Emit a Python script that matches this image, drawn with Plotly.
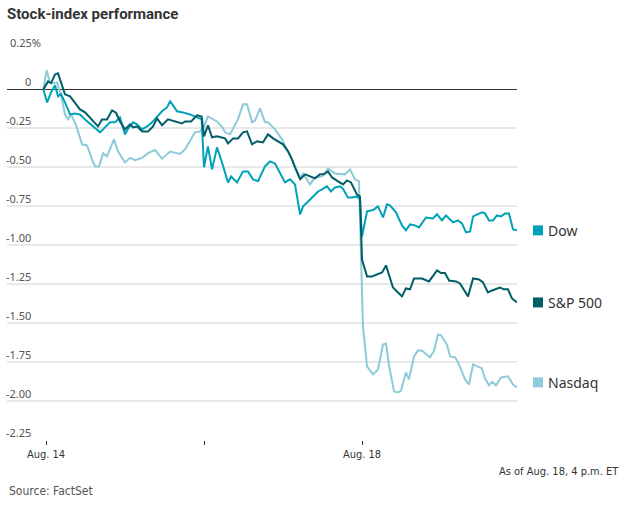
import plotly.graph_objects as go

# time in trading days from Aug. 14 open (1 = Aug. 15 open, 2 = Aug. 18 open)
nasdaq_t = [-0.017, 0.004, 0.025, 0.045, 0.070, 0.101, 0.120, 0.139, 0.158, 0.190,
            0.228, 0.260, 0.291, 0.310, 0.335, 0.361, 0.386, 0.430, 0.456, 0.500,
            0.532, 0.563, 0.608, 0.646, 0.690, 0.734, 0.785, 0.848, 0.880, 0.911,
            0.943, 0.975, 1.000, 1.025, 1.051, 1.082, 1.114, 1.133, 1.165, 1.215,
            1.247, 1.272, 1.304, 1.323, 1.354, 1.386, 1.405, 1.449, 1.494, 1.532,
            1.576, 1.608, 1.627, 1.671, 1.703, 1.747, 1.785, 1.829, 1.892, 1.924,
            1.956, 1.981, 2.006, 2.032, 2.070, 2.101, 2.133, 2.152, 2.172, 2.203,
            2.228, 2.247, 2.278, 2.297, 2.329, 2.354, 2.380, 2.430, 2.456, 2.481,
            2.500, 2.538, 2.557, 2.590, 2.614, 2.652, 2.677, 2.703, 2.759, 2.778,
            2.804, 2.823, 2.848, 2.880, 2.924, 2.956, 2.981]
nasdaq = [0.000, 0.122, 0.045, 0.040, 0.045, -0.064, -0.161, -0.193, -0.160, -0.230,
          -0.353, -0.360, -0.450, -0.495, -0.495, -0.410, -0.430, -0.321, -0.400, -0.470,
          -0.440, -0.455, -0.440, -0.410, -0.390, -0.445, -0.400, -0.415, -0.385, -0.335,
          -0.276, -0.270, -0.240, -0.174, -0.190, -0.206, -0.240, -0.276, -0.289, -0.193,
          -0.096, -0.096, -0.212, -0.200, -0.122, -0.212, -0.212, -0.257, -0.321, -0.398,
          -0.495, -0.566, -0.540, -0.611, -0.566, -0.559, -0.508, -0.540, -0.546, -0.514,
          -0.578, -0.591, -1.523, -1.780, -1.832, -1.800, -1.639, -1.633, -1.780, -1.941,
          -1.947, -1.935, -1.819, -1.864, -1.716, -1.677, -1.680, -1.722, -1.680, -1.575,
          -1.580, -1.640, -1.716, -1.722, -1.767, -1.864, -1.896, -1.767, -1.793, -1.857,
          -1.902, -1.880, -1.902, -1.851, -1.844, -1.896, -1.915]

dow_t = [-0.017, 0.007, 0.032, 0.057, 0.076, 0.095, 0.120, 0.152, 0.184, 0.215,
         0.247, 0.278, 0.310, 0.342, 0.373, 0.405, 0.437, 0.468, 0.500, 0.525,
         0.551, 0.576, 0.608, 0.639, 0.671, 0.703, 0.734, 0.766, 0.785, 0.804,
         0.829, 0.867, 0.911, 0.956, 0.985, 1.000, 1.025, 1.051, 1.082, 1.114,
         1.152, 1.171, 1.209, 1.247, 1.278, 1.310, 1.342, 1.386, 1.418, 1.449,
         1.481, 1.513, 1.544, 1.576, 1.608, 1.627, 1.659, 1.690, 1.722, 1.747,
         1.778, 1.804, 1.829, 1.861, 1.880, 1.911, 1.937, 1.968, 1.987, 2.000,
         2.032, 2.070, 2.101, 2.133, 2.158, 2.177, 2.215, 2.253, 2.278, 2.304,
         2.335, 2.361, 2.405, 2.449, 2.475, 2.506, 2.532, 2.576, 2.608, 2.633,
         2.658, 2.684, 2.703, 2.759, 2.778, 2.804, 2.829, 2.854, 2.880, 2.905,
         2.930, 2.956, 2.981]
dow = [0.000, -0.084, -0.020, 0.026, -0.045, -0.030, -0.084, -0.161, -0.155, -0.161,
       -0.193, -0.219, -0.244, -0.276, -0.244, -0.212, -0.212, -0.180, -0.289, -0.244,
       -0.212, -0.225, -0.257, -0.238, -0.212, -0.174, -0.141, -0.116, -0.077, -0.103,
       -0.141, -0.148, -0.161, -0.180, -0.193, -0.501, -0.366, -0.514, -0.373, -0.470,
       -0.598, -0.560, -0.598, -0.527, -0.527, -0.578, -0.590, -0.495, -0.463, -0.476,
       -0.533, -0.598, -0.578, -0.611, -0.803, -0.752, -0.720, -0.688, -0.656, -0.643,
       -0.623, -0.656, -0.630, -0.623, -0.640, -0.694, -0.694, -0.688, -0.707, -0.945,
       -0.784, -0.775, -0.752, -0.823, -0.739, -0.745, -0.790, -0.874, -0.906, -0.868,
       -0.874, -0.887, -0.823, -0.829, -0.803, -0.842, -0.810, -0.855, -0.842, -0.861,
       -0.919, -0.913, -0.816, -0.790, -0.797, -0.842, -0.842, -0.810, -0.816, -0.797,
       -0.797, -0.900, -0.906]

sp_t = [-0.017, 0.013, 0.032, 0.057, 0.076, 0.101, 0.120, 0.152, 0.184, 0.215,
        0.247, 0.278, 0.304, 0.329, 0.354, 0.386, 0.418, 0.443, 0.468, 0.500,
        0.532, 0.551, 0.576, 0.608, 0.646, 0.677, 0.703, 0.734, 0.772, 0.816,
        0.861, 0.880, 0.918, 0.956, 0.985, 1.000, 1.025, 1.051, 1.082, 1.133,
        1.152, 1.184, 1.215, 1.247, 1.272, 1.304, 1.335, 1.373, 1.405, 1.437,
        1.468, 1.500, 1.532, 1.557, 1.576, 1.608, 1.640, 1.671, 1.703, 1.734,
        1.759, 1.785, 1.810, 1.848, 1.880, 1.905, 1.930, 1.968, 1.987, 2.000,
        2.032, 2.063, 2.095, 2.127, 2.152, 2.171, 2.196, 2.228, 2.253, 2.278,
        2.304, 2.329, 2.380, 2.424, 2.449, 2.475, 2.500, 2.525, 2.551, 2.595,
        2.620, 2.652, 2.671, 2.703, 2.741, 2.766, 2.797, 2.823, 2.873, 2.899,
        2.924, 2.949, 2.981]
sp500 = [0.000, 0.051, 0.040, 0.096, 0.103, 0.032, -0.032, -0.045, -0.084, -0.129,
         -0.148, -0.180, -0.206, -0.238, -0.193, -0.193, -0.135, -0.150, -0.206, -0.257,
         -0.225, -0.244, -0.238, -0.270, -0.270, -0.238, -0.186, -0.231, -0.193, -0.206,
         -0.219, -0.206, -0.206, -0.167, -0.174, -0.302, -0.231, -0.308, -0.302, -0.315,
         -0.347, -0.315, -0.315, -0.276, -0.270, -0.353, -0.334, -0.341, -0.289, -0.315,
         -0.334, -0.353, -0.398, -0.450, -0.501, -0.578, -0.546, -0.559, -0.572, -0.546,
         -0.546, -0.527, -0.566, -0.591, -0.611, -0.585, -0.598, -0.675, -0.688, -1.093,
         -1.202, -1.202, -1.189, -1.176, -1.131, -1.200, -1.273, -1.305, -1.330, -1.279,
         -1.285, -1.215, -1.215, -1.234, -1.200, -1.163, -1.180, -1.180, -1.228, -1.234,
         -1.247, -1.305, -1.330, -1.215, -1.221, -1.240, -1.305, -1.292, -1.273, -1.285,
         -1.285, -1.343, -1.369]

y_ticks = [0.25, 0, -0.25, -0.50, -0.75, -1.00, -1.25, -1.50, -1.75, -2.00, -2.25]
y_labels = ["0.25%", "0", "-0.25", "-0.50", "-0.75", "-1.00", "-1.25", "-1.50", "-1.75", "-2.00", "-2.25"]
x_ticks = [0, 1, 2]
x_labels = ["Aug. 14", "", "Aug. 18"]

series = [
    ("Nasdaq", nasdaq_t, nasdaq, "#8ccbd7"),
    ("Dow", dow_t, dow, "#00a2b9"),
    ("S&P 500", sp_t, sp500, "#005e68"),
]
label_shift = {"Nasdaq": 5}

narrow = "DejaVu Sans Condensed, Roboto, sans-serif"
fig = go.Figure()

for name, t, v, color in series:
    fig.add_trace(go.Scatter(x=t, y=v, name=name, mode="lines",
                             line=dict(color=color, width=2), hoverinfo="skip"))
    # end-of-line legend: square swatch + name
    dy = label_shift.get(name, 0)
    fig.add_shape(type="rect", xref="paper", yref="y", xsizemode="pixel", ysizemode="pixel",
                  xanchor=1, yanchor=v[-1], x0=16, x1=26, y0=-5 + dy, y1=5 + dy,
                  fillcolor=color, line=dict(width=0))
    fig.add_annotation(x=1, y=v[-1], xref="paper", yref="y", text=name, showarrow=False,
                       xanchor="left", yanchor="middle", xshift=29, yshift=dy,
                       font=dict(family="Noto Sans", size=14, color="#333333"))

# y tick labels sit above their grid lines
for val, lab in zip(y_ticks, y_labels):
    if lab.endswith("%"):
        fig.add_annotation(x=1 / 510, y=val, xref="paper", yref="y", text=lab, showarrow=False,
                           xanchor="left", yanchor="bottom", yshift=-2,
                           font=dict(family="Noto Sans", size=11, color="#555555"))
    else:
        fig.add_annotation(x=26 / 510, y=val, xref="paper", yref="y", text=lab, showarrow=False,
                           xanchor="right", yanchor="bottom", yshift=-2,
                           font=dict(family="Noto Sans", size=11, color="#555555"))

fig.update_layout(
    width=628, height=505,
    margin=dict(l=7, r=111, t=50, b=65),
    paper_bgcolor="white", plot_bgcolor="white",
    showlegend=False,
    title=dict(text="<b>Stock-index performance</b>", x=7 / 628, xanchor="left",
               y=1 - 14 / 505, yanchor="middle",
               font=dict(family="Roboto", size=15, color="#333333")),
    xaxis=dict(range=[-0.247, 2.981], tickvals=x_ticks, ticktext=x_labels,
               showgrid=False, zeroline=False, showline=False,
               ticks="outside", ticklen=4, tickcolor="#333333", tickwidth=1,
               tickfont=dict(family=narrow, size=11, color="#333333")),
    yaxis=dict(range=[-2.253, 0.253], tickvals=y_ticks, showticklabels=False,
               showgrid=True, gridcolor="#e8e8e8", gridwidth=2,
               zeroline=True, zerolinecolor="#333333", zerolinewidth=1,
               showline=False),
)

# footnotes
fig.add_annotation(x=1, y=0, xref="paper", yref="paper", text="As of Aug. 18, 4 p.m. ET",
                   showarrow=False, xanchor="right", yanchor="middle",
                   xshift=104, yshift=-31, font=dict(family=narrow, size=11, color="#333333"))
fig.add_annotation(x=0, y=0, xref="paper", yref="paper", text="Source: FactSet",
                   showarrow=False, xanchor="left", yanchor="middle",
                   xshift=0, yshift=-51, font=dict(family=narrow, size=12, color="#555555"))

fig.write_html("out.html", config={"displayModeBar": False},
               post_script="document.body.style.margin = '0';")
